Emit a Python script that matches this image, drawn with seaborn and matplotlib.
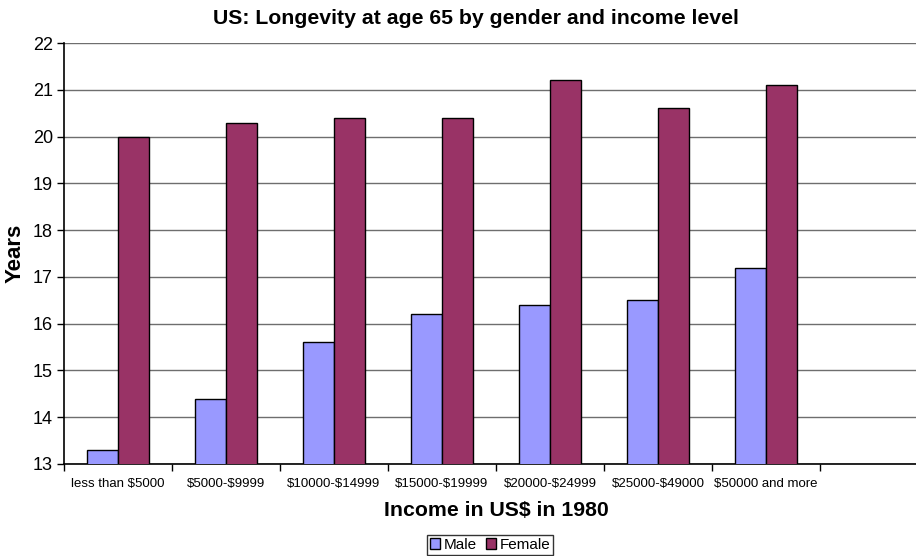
import matplotlib
matplotlib.use("Agg")
import matplotlib.pyplot as plt
import seaborn as sns
import pandas as pd
import numpy as np

categories = ["less than $5000", "$5000-$9999", "$10000-$14999", "$15000-$19999",
              "$20000-$24999", "$25000-$49000", "$50000 and more"]
male = [13.3, 14.4, 15.6, 16.2, 16.4, 16.5, 17.2]
female = [20.0, 20.3, 20.4, 20.4, 21.2, 20.6, 21.1]

df = pd.DataFrame({
    "Income": categories * 2,
    "Years": male + female,
    "Gender": ["Male"] * len(categories) + ["Female"] * len(categories),
})

sns.set_theme(style="white")
plt.rcParams["font.family"] = ["Liberation Sans", "DejaVu Sans"]
plt.rcParams["text.color"] = "black"
plt.rcParams["axes.labelcolor"] = "black"
plt.rcParams["xtick.color"] = "black"
plt.rcParams["ytick.color"] = "black"

fig = plt.figure(figsize=(9.16, 5.56), dpi=100)
ax = fig.add_axes([64 / 916, 1 - 464 / 556, 864 / 916, 421 / 556])

palette = {"Male": "#9999FF", "Female": "#993366"}
sns.barplot(data=df, x="Income", y="Years", hue="Gender", order=categories,
            hue_order=["Male", "Female"], palette=palette, width=0.574,
            edgecolor="black", linewidth=1.0, saturation=1, ax=ax, zorder=3)

n_slots = len(categories) + 1
ax.set_xlim(-0.5, n_slots - 0.5)
ax.set_ylim(13, 22)
ax.set_yticks(np.arange(13, 23, 1))
ax.yaxis.grid(True, color="#6e6e6e", linewidth=1.0, zorder=0)
ax.set_axisbelow(True)

ax.set_xticks(range(len(categories)))
for lbl in ax.set_xticklabels(categories, fontsize=9.5):
    lbl.set_parse_math(False)
ax.set_xticks(np.arange(-0.5, n_slots, 1), minor=True)
ax.tick_params(axis="x", which="major", length=0, pad=10)
ax.tick_params(axis="x", which="minor", length=5, width=1, color="black", direction="out", bottom=True)
ax.tick_params(axis="y", length=5, width=1, color="black", direction="out", left=True, labelsize=13, pad=3)

for s in ["top", "right"]:
    ax.spines[s].set_visible(False)
for s in ["left", "bottom"]:
    ax.spines[s].set_color("black")
    ax.spines[s].set_linewidth(1.2)

ax.set_ylabel("Years", fontsize=16, fontweight="bold", labelpad=5)
ax.set_xlabel("Income in US$ in 1980", fontsize=15.3, fontweight="bold", labelpad=8)
fig.text(476 / 916, 1 - 18 / 556, "US: Longevity at age 65 by gender and income level",
         ha="center", va="center", fontsize=15.3, fontweight="bold")

ax.get_legend().remove()
handles = [matplotlib.patches.Patch(facecolor=palette[g], edgecolor="black", label=g)
           for g in ["Male", "Female"]]
fig.legend(handles=handles, loc="center", bbox_to_anchor=(490 / 916, 1 - 545 / 556),
           ncol=2, frameon=True, fontsize=11, handlelength=0.7, handleheight=0.7,
           handletextpad=0.2, columnspacing=0.6, borderpad=0.2, fancybox=False,
           edgecolor="black")

fig.savefig("out.png", dpi=100)
